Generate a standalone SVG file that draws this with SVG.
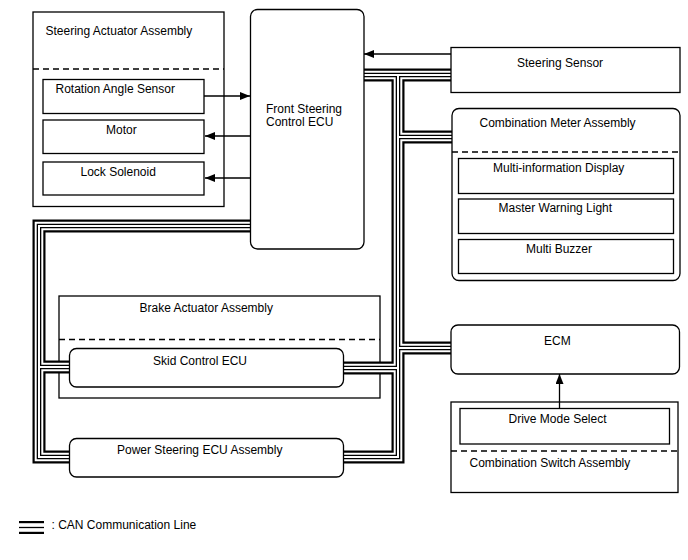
<svg xmlns="http://www.w3.org/2000/svg" xmlns:xlink="http://www.w3.org/1999/xlink" width="688" height="560" viewBox="0 0 688 560">
<style>
.box{fill:none;stroke:#000;stroke-width:1.3}
.ibox{fill:none;stroke:#000;stroke-width:1.3}
.dash{fill:none;stroke:#000;stroke-width:1.3;stroke-dasharray:6 4}
.t{font-family:"Liberation Sans",Arial,sans-serif;font-size:12px;fill:#000}
.arr{fill:none;stroke:#000;stroke-width:1.3;marker-end:url(#ah)}
.c1{fill:none;stroke:#000;stroke-width:13;stroke-linejoin:miter}
.c2{fill:none;stroke:#fff;stroke-width:8.6;stroke-linejoin:miter}
.c3{fill:none;stroke:#000;stroke-width:4.6;stroke-linejoin:miter}
.c4{fill:none;stroke:#fff;stroke-width:2;stroke-linejoin:miter}
</style>
<defs>
<marker id="ah" viewBox="0 0 10 8" refX="10" refY="4" markerWidth="10" markerHeight="8" orient="auto" markerUnits="userSpaceOnUse"><path d="M0,0 L10,4 L0,8 z" fill="#000"/></marker>
<path id="bus" d="M250,226 H39 V457 H69 M39,367 H69 M364,75 H451 M398,75 V457 H343 M398,137 H452 M398,348 H451 M398,368 H343"/>
<path id="leg" d="M19,527.5 H44"/>
</defs>

<g id="brake-actuator-assembly">
<rect class="box" x="59" y="296" width="321" height="102"/>
<line class="dash" x1="59" y1="339.5" x2="380" y2="339.5"/>
<text class="t" x="139.5" y="312">Brake Actuator Assembly</text>
</g>

<g id="connectors">
<use xlink:href="#bus" class="c1"/>
<use xlink:href="#bus" class="c2"/>
<use xlink:href="#bus" class="c3"/>
<use xlink:href="#bus" class="c4"/>
<path class="arr" d="M204,96 H250"/>
<path class="arr" d="M250,136 H205"/>
<path class="arr" d="M250,178 H205"/>
<path class="arr" d="M451,54 H364"/>
<path class="arr" d="M559.5,408 V374"/>
</g>

<g id="steering-actuator-assembly">
<rect class="box" x="33" y="12" width="191" height="194.5"/>
<line class="dash" x1="33" y1="69" x2="224" y2="69"/>
<text class="t" x="45.5" y="35">Steering Actuator Assembly</text>
</g>
<g id="rotation-angle-sensor">
<rect class="ibox" x="43" y="79.5" width="161" height="34"/>
<text class="t" x="55.5" y="93">Rotation Angle Sensor</text>
</g>
<g id="motor">
<rect class="ibox" x="43" y="120" width="161" height="33.5"/>
<text class="t" x="106" y="133.5">Motor</text>
</g>
<g id="lock-solenoid">
<rect class="ibox" x="43" y="162" width="161" height="33"/>
<text class="t" x="80.5" y="176">Lock Solenoid</text>
</g>

<g id="front-steering-control-ecu">
<rect class="box" x="250.5" y="9.5" width="113.5" height="239.5" rx="7"/>
<text class="t" x="266" y="112.5">Front Steering</text>
<text class="t" x="266" y="126">Control ECU</text>
</g>

<g id="steering-sensor">
<rect class="box" x="451" y="47.5" width="229" height="45"/>
<text class="t" x="517" y="66.5">Steering Sensor</text>
</g>

<g id="combination-meter-assembly">
<rect class="box" x="452" y="108.5" width="228" height="172" rx="7"/>
<line class="dash" x1="452" y1="152" x2="680" y2="152"/>
<text class="t" x="479.5" y="126.5">Combination Meter Assembly</text>
</g>
<g id="multi-information-display">
<rect class="ibox" x="458.5" y="158.5" width="215" height="35"/>
<text class="t" x="493" y="171.5">Multi-information Display</text>
</g>
<g id="master-warning-light">
<rect class="ibox" x="458.5" y="199" width="215" height="34.5"/>
<text class="t" x="498.5" y="212">Master Warning Light</text>
</g>
<g id="multi-buzzer">
<rect class="ibox" x="458.5" y="239.5" width="215" height="34"/>
<text class="t" x="526" y="252.5">Multi Buzzer</text>
</g>

<g id="skid-control-ecu">
<rect class="box" x="69.5" y="348.5" width="274" height="38.5" rx="7"/>
<text class="t" x="153" y="364.5">Skid Control ECU</text>
</g>

<g id="power-steering-ecu-assembly">
<rect class="box" x="69.5" y="438.5" width="274" height="38.5" rx="7"/>
<text class="t" x="117" y="453.5">Power Steering ECU Assembly</text>
</g>

<g id="ecm">
<rect class="box" x="451" y="325" width="228.5" height="49" rx="7"/>
<text class="t" x="544" y="345">ECM</text>
</g>

<g id="combination-switch-assembly">
<rect class="box" x="451" y="402" width="227" height="90.5"/>
<line class="dash" x1="451" y1="451" x2="678" y2="451"/>
<text class="t" x="469.5" y="466.5">Combination Switch Assembly</text>
</g>
<g id="drive-mode-select">
<rect class="ibox" x="460" y="408.5" width="209.5" height="35.5"/>
<text class="t" x="508.5" y="422.5">Drive Mode Select</text>
</g>

<g id="legend">
<use xlink:href="#leg" class="c1"/>
<use xlink:href="#leg" class="c2"/>
<path d="M19,527.5 H44" stroke="#000" stroke-width="1.3" fill="none"/>
<text class="t" x="51.5" y="528.5">: CAN Communication Line</text>
</g>
</svg>
